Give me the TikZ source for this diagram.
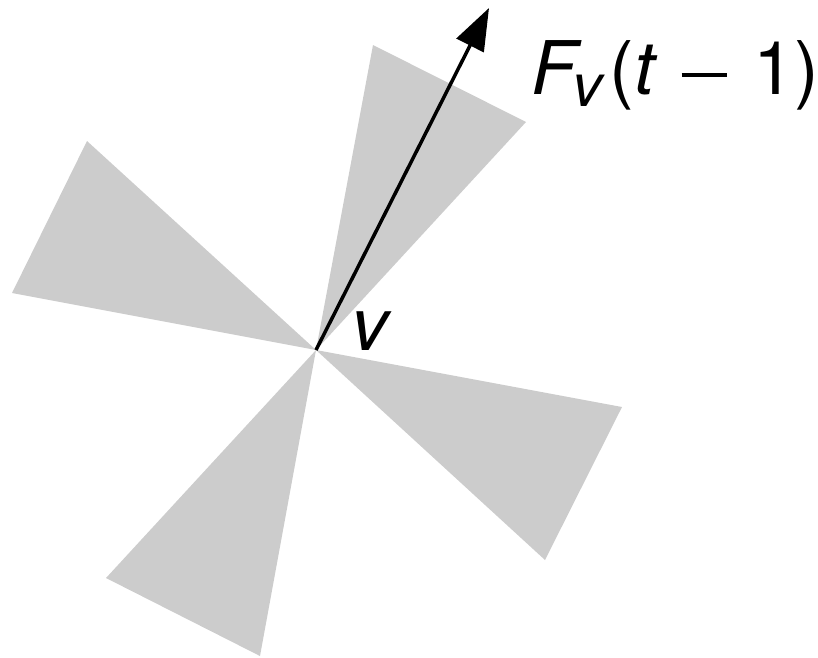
\documentclass[tikz,border=0pt]{standalone}
\usepackage{fontspec}
\setmainfont{TeX Gyre Heros}
\usetikzlibrary{arrows.meta}
\tikzset{
  wedge/.style={fill=black!20, draw=none},
  lbl/.style={inner sep=0pt, font=\fontsize{74}{80}\selectfont},
  vec/.style={line width=3.5pt, -{Triangle[length=42pt,width=30pt]}}
}
\begin{document}
\begin{tikzpicture}[x=1pt,y=-1pt]
\useasboundingbox (0,0) rectangle (818,657);
\coordinate (c) at (316,350);
\coordinate (tip) at (489,8);
\fill[wedge] (c) -- (373,45) -- (526,122) -- cycle;
\fill[wedge] (c) -- (87,141) -- (12,293) -- cycle;
\fill[wedge] (c) -- (622,407) -- (545,560) -- cycle;
\fill[wedge] (c) -- (106,578) -- (260,656) -- cycle;
\draw[vec] (c) -- (tip);
\node[lbl, anchor=base west] (v) at (351,350) {\itshape v};
\node[lbl, anchor=base west] (F) at (531,94) {\itshape F\kern-4pt\raisebox{-12pt}{\fontsize{60}{62}\selectfont v}\kern7pt\upshape(\itshape t\upshape\kern27pt\rule[17pt]{45pt}{4pt}\kern27pt 1)};
\end{tikzpicture}
\end{document}
